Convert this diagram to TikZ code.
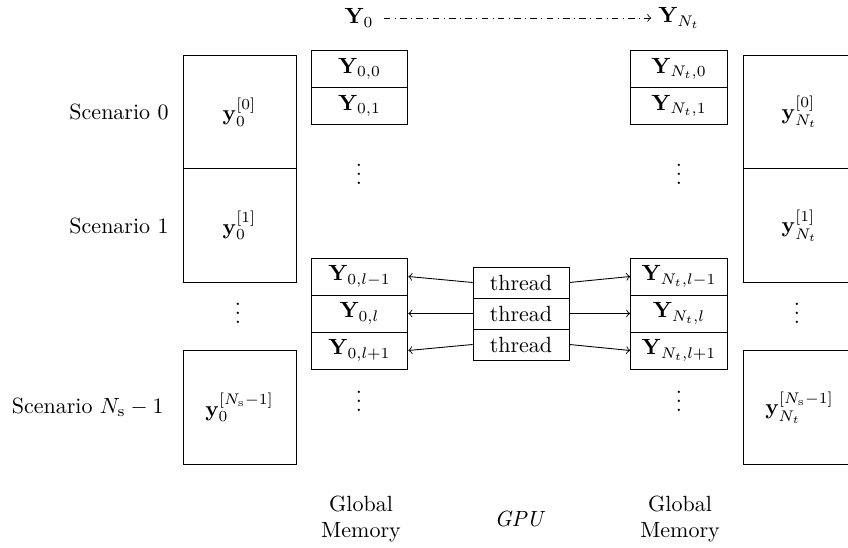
\documentclass[tikz,border=0pt]{standalone}
\usetikzlibrary{positioning}
\begin{document}
\begin{tikzpicture}[x={(0.4545pt,0)},y={(0,-0.4545pt)},
  bigbox/.style={draw,rectangle,minimum width=51.4pt,minimum height=51.6pt,inner sep=0pt},
  ybox/.style={draw,rectangle,minimum width=44pt,minimum height=16.8pt,inner sep=0pt},
  tbox/.style={draw,rectangle,minimum width=43.6pt,minimum height=14.1pt,inner sep=0pt},
  lbl/.style={inner sep=0pt},
  conn/.style={->}]
\useasboundingbox (0,0) rectangle (848,548);
% top
\node[lbl] (Y0) at (359,18) {$\mathbf{Y}_0$};
\node[lbl] (YN) at (679,18) {$\mathbf{Y}_{N_t}$};
\draw[conn,dash dot] ([xshift=4.5pt]Y0.east) -- ([xshift=-3pt]YN.west);
% left scenario boxes
\node[bigbox] (L0) at (239.5,112) {$\mathbf{y}_0^{[0]}$};
\node[bigbox] (L1) at (239.5,225.5) {$\mathbf{y}_0^{[1]}$};
\node[bigbox] (L2) at (239.5,407.5) {$\mathbf{y}_0^{[N_\mathrm{s}-1]}$};
\node[lbl] (dL) at (238,306.5) {$\vdots$};
% right scenario boxes
\node[bigbox] (R0) at (799.5,112) {$\mathbf{y}_{N_t}^{[0]}$};
\node[bigbox] (R1) at (799.5,225.5) {$\mathbf{y}_{N_t}^{[1]}$};
\node[bigbox] (R2) at (799.5,407.5) {$\mathbf{y}_{N_t}^{[N_\mathrm{s}-1]}$};
\node[lbl] (dR) at (797,306.5) {$\vdots$};
% scenario labels
\node[lbl,anchor=east] (S0) at (169,112) {Scenario 0};
\node[lbl,anchor=east] (S1) at (169,225.5) {Scenario 1};
\node[lbl,anchor=east] (S2) at (164,407.5) {Scenario $N_\mathrm{s}-1$};
% left Y column
\node[ybox] (A0) at (359.5,69) {$\mathbf{Y}_{0,0}$};
\node[ybox] (A1) at (359.5,106) {$\mathbf{Y}_{0,1}$};
\node[lbl] (dA1) at (359,167.5) {$\vdots$};
\node[ybox] (A2) at (359.5,276.5) {$\mathbf{Y}_{0,l-1}$};
\node[ybox] (A3) at (359.5,313.5) {$\mathbf{Y}_{0,l}$};
\node[ybox] (A4) at (359.5,350.5) {$\mathbf{Y}_{0,l+1}$};
\node[lbl] (dA2) at (359,394.5) {$\vdots$};
% right Y column
\node[ybox] (B0) at (679,69) {$\mathbf{Y}_{N_t,0}$};
\node[ybox] (B1) at (679,106) {$\mathbf{Y}_{N_t,1}$};
\node[lbl] (dB1) at (679,167.5) {$\vdots$};
\node[ybox] (B2) at (679,276.5) {$\mathbf{Y}_{N_t,l-1}$};
\node[ybox] (B3) at (679,313.5) {$\mathbf{Y}_{N_t,l}$};
\node[ybox] (B4) at (679,350.5) {$\mathbf{Y}_{N_t,l+1}$};
\node[lbl] (dB2) at (679,394.5) {$\vdots$};
% threads
\node[tbox] (T1) at (521,282.5) {thread};
\node[tbox] (T2) at (521,313.5) {thread};
\node[tbox] (T3) at (521,344.5) {thread};
\draw[conn] (T1.west) -- (A2.east);
\draw[conn] (T2.west) -- (A3.east);
\draw[conn] (T3.west) -- (A4.east);
\draw[conn] (T1.east) -- (B2.west);
\draw[conn] (T2.east) -- (B3.west);
\draw[conn] (T3.east) -- (B4.west);
% bottom labels
\node[lbl,align=center] (GM1) at (361,519) {Global\\Memory};
\node[lbl] (GPU) at (520,519) {\textit{GPU}};
\node[lbl,align=center] (GM2) at (680,519) {Global\\Memory};
\end{tikzpicture}
\end{document}
